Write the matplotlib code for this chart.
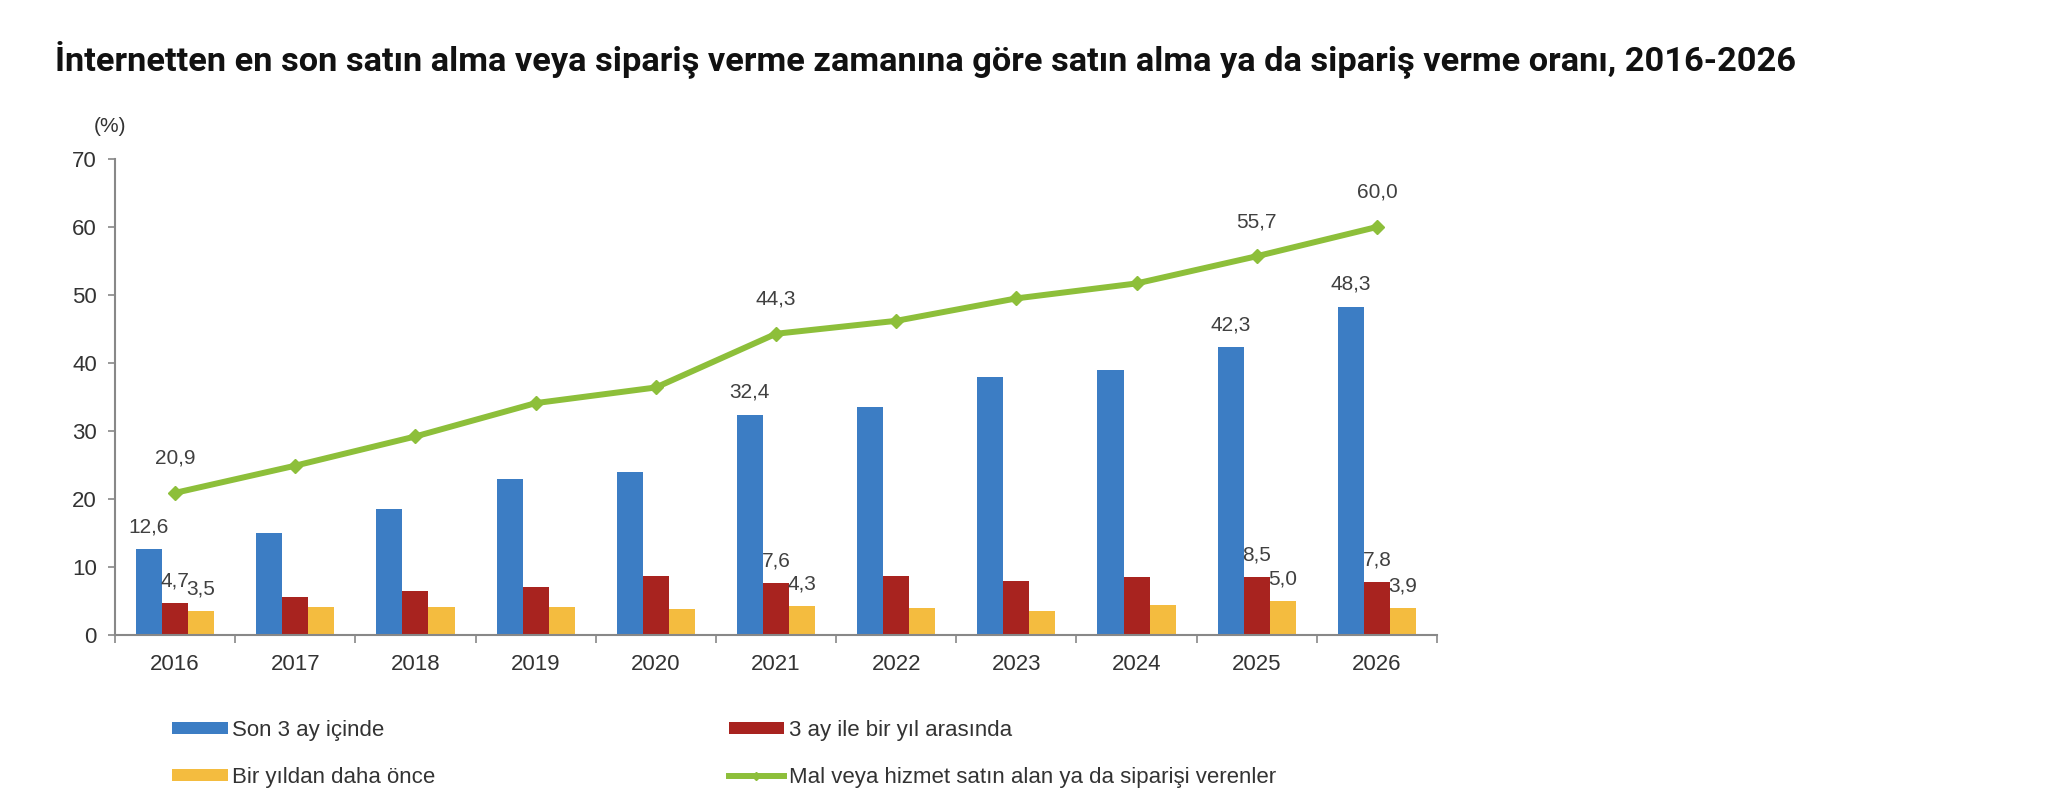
import matplotlib
matplotlib.use("Agg")
import matplotlib.pyplot as plt
from matplotlib.ticker import FixedLocator, NullFormatter
import numpy as np

years = ["2016", "2017", "2018", "2019", "2020", "2021", "2022", "2023", "2024", "2025", "2026"]
son3ay = [12.6, 15.0, 18.6, 23.0, 24.0, 32.4, 33.6, 38.0, 39.0, 42.3, 48.3]
ay3_yil = [4.7, 5.6, 6.4, 7.0, 8.7, 7.6, 8.7, 7.9, 8.5, 8.5, 7.8]
yildan_once = [3.5, 4.1, 4.1, 4.1, 3.8, 4.3, 3.9, 3.5, 4.4, 5.0, 3.9]
toplam = [20.9, 24.9, 29.2, 34.1, 36.4, 44.3, 46.2, 49.5, 51.7, 55.7, 60.0]
labelled_years = ["2016", "2021", "2025", "2026"]

series_names = ["Son 3 ay içinde", "3 ay ile bir yıl arasında",
                "Bir yıldan daha önce", "Mal veya hizmet satın alan ya da siparişi verenler"]
title = "İnternetten en son satın alma veya sipariş verme zamanına göre satın alma ya da sipariş verme oranı, 2016-2026"

c_blue = "#3C7DC4"
c_red = "#A8231F"
c_yellow = "#F4BC3F"
c_green = "#8DBF3A"
txt_col = "#333333"
lab_col = "#404040"

plt.rcParams['font.family'] = ['Liberation Sans', 'DejaVu Sans']

fig = plt.figure(figsize=(20.66, 7.90), dpi=100)
ax = fig.add_axes([115/2066, 1-635/790, (1437-115)/2066, (635-159)/790])

x = np.arange(len(years))
w = 0.217
b1 = ax.bar(x - w, son3ay, w, color=c_blue, label=series_names[0], zorder=2)
b2 = ax.bar(x, ay3_yil, w, color=c_red, label=series_names[1], zorder=2)
b3 = ax.bar(x + w, yildan_once, w, color=c_yellow, label=series_names[2], zorder=2)
ln, = ax.plot(x, toplam, color=c_green, lw=4.3, marker='D', ms=7.5,
              label=series_names[3], zorder=3)

def fmt(v):
    return f"{v:.1f}".replace(".", ",")

for i, yr in enumerate(years):
    if yr not in labelled_years:
        continue
    for dx, vals in ((-w, son3ay), (0, ay3_yil), (w, yildan_once)):
        ax.annotate(fmt(vals[i]), (x[i] + dx, vals[i]), xytext=(0, 16),
                    textcoords='offset points', ha='center', va='center',
                    fontsize=15, color=lab_col, zorder=4)
    ax.annotate(fmt(toplam[i]), (x[i], toplam[i]), xytext=(0, 25),
                textcoords='offset points', ha='center', va='center',
                fontsize=15, color=lab_col, zorder=4)

ax.set_xlim(-0.5, len(years) - 0.5)
ax.set_ylim(0, 70)
ax.set_yticks(range(0, 71, 10))
ax.set_xticks(x)
ax.set_xticklabels(years)
ax.xaxis.set_minor_locator(FixedLocator(np.arange(-0.5, len(years), 1.0)))
ax.xaxis.set_minor_formatter(NullFormatter())
ax.tick_params(axis='x', which='major', length=0, pad=14, labelsize=16, labelcolor=txt_col)
ax.tick_params(axis='x', which='minor', length=6, width=1.2, color="#888888", direction='out')
ax.tick_params(axis='y', length=5, width=1.2, color="#888888", pad=8, labelsize=16, labelcolor=txt_col)
for s in ('top', 'right'):
    ax.spines[s].set_visible(False)
for s in ('left', 'bottom'):
    ax.spines[s].set_color("#888888")
    ax.spines[s].set_linewidth(1.5)

fig.text(110/2066, 1-127/790, "(%)", ha='center', va='center', fontsize=15, color=txt_col)

fig.text(55/2066, 1-70/790, title, ha='left', va='baseline', fontsize=24.75,
         fontweight='bold', family=['Roboto', 'DejaVu Sans'], color="#111111")

leg = fig.legend([b1, b3, b2, ln], [series_names[0], series_names[2], series_names[1], series_names[3]],
                 ncol=2, loc='upper left', bbox_to_anchor=(172/2066, 1-720/790),
                 frameon=False, fontsize=16, handlelength=2.5, handleheight=0.45,
                 handletextpad=0.2, columnspacing=13.2, labelspacing=1.15,
                 borderpad=0, borderaxespad=0, labelcolor=txt_col, numpoints=1)
for t in leg.get_lines():
    t.set_markersize(4)

fig.savefig("out.png", dpi=100)
